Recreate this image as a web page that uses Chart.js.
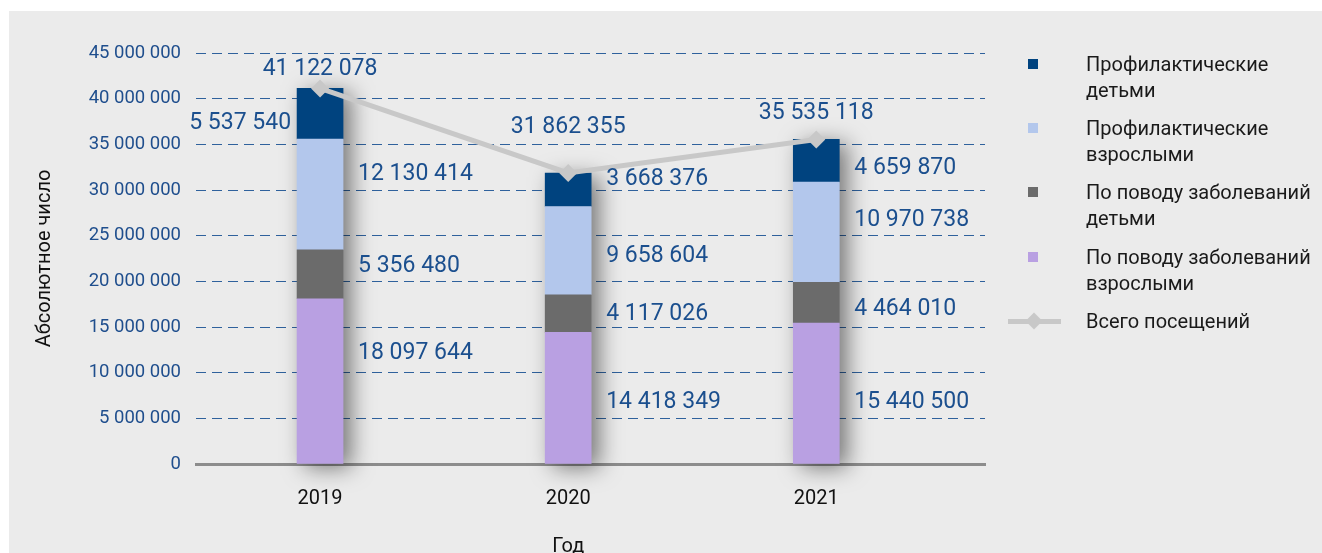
<!DOCTYPE html>
<html>
<head>
  <meta charset="utf-8">
  <title>Посещения</title>
  <script src="https://cdn.jsdelivr.net/npm/chart.js"></script>
  <style>
    body { margin: 0; background: #fff; font-family: Roboto, sans-serif; }
    #panel { position: absolute; left: 9px; top: 11px; width: 1313px; height: 542px; background: #ebebeb; overflow: hidden; }
    #visitsChart { position: absolute; left: 0; top: 0; }
    #legend { position: absolute; left: 995px; top: 40px; width: 318px; }
    .item { position: relative; height: 64.2px; }
    .marker { position: absolute; left: 24px; top: 8px; width: 10px; height: 10px; }
    .lineIcon { position: absolute; left: 4px; top: 11px; width: 53px; height: 5px; background: #c8c8c8; }
    .lineIcon::after { content: ''; position: absolute; left: 20px; top: -4px; width: 12px; height: 12px; background: #c8c8c8; transform: rotate(45deg); }
    .text { position: absolute; left: 82px; top: 0; width: 232px; font-size: 20px; line-height: 26px; color: #1a1a1a; }
  </style>
</head>
<body>
  <div id="panel">
    <canvas id="visitsChart" width="1313" height="542"></canvas>
    <div id="legend"></div>
  </div>

  <script>
    const years = ['2019', '2020', '2021'];
    const seriesNames = [
      'Профилактические детьми',
      'Профилактические взрослыми',
      'По поводу заболеваний детьми',
      'По поводу заболеваний взрослыми',
      'Всего посещений'
    ];
    const childrenPrev = [5537540, 3668376, 4659870];
    const adultsPrev = [12130414, 9658604, 10970738];
    const childrenIllness = [5356480, 4117026, 4464010];
    const adultsIllness = [18097644, 14418349, 15440500];
    const totalVisits = [41122078, 31862355, 35535118];
    const yMax = 45000000;
    const yStep = 5000000;

    const colors = ['#00437f', '#b3c7ec', '#6b6b6b', '#b9a0e2', '#c8c8c8'];
    const labelColor = '#1b4f8e';

    Chart.defaults.font.family = 'Roboto, sans-serif';

    // 12345678 -> "12 345 678"
    function fmt(n) {
      return String(n).replace(/\B(?=(\d{3})+(?!\d))/g, ' ');
    }

    function points(arr) {
      return arr.map((v, i) => ({ x: i, y: v }));
    }

    function barSet(label, arr, color) {
      return {
        label: label,
        data: points(arr),
        backgroundColor: color,
        barThickness: 46,
        order: 1
      };
    }

    // soft shadow behind each whole stack
    const barShadow = {
      id: 'barShadow',
      beforeDatasetsDraw(chart) {
        const c = chart.ctx;
        const metas = [0, 1, 2, 3].map(i => chart.getDatasetMeta(i));
        metas[0].data.forEach((el, j) => {
          const top = Math.min(...metas.map(m => m.data[j].y));
          c.save();
          c.shadowColor = 'rgba(0,0,0,0.5)';
          c.shadowBlur = 22;
          c.shadowOffsetX = 8;
          c.shadowOffsetY = 4;
          c.fillStyle = '#999';
          c.fillRect(el.x - el.width / 2, top, el.width, el.base - top);
          c.restore();
        });
      }
    };

    // value labels next to the segments and totals above the line
    const valueLabels = {
      id: 'valueLabels',
      afterDatasetsDraw(chart, args, opts) {
        const c = chart.ctx;
        c.save();
        c.font = '23px Roboto, sans-serif';
        c.fillStyle = labelColor;
        c.textBaseline = 'middle';
        for (let i = 0; i < 4; i++) {
          const meta = chart.getDatasetMeta(i);
          const values = chart.data.datasets[i].data;
          meta.data.forEach((el, j) => {
            const y = (el.y + el.base) / 2 + opts.segNudge[i][j] + 2;
            const onLeft = i === 3 && j === 0;
            c.textAlign = onLeft ? 'right' : 'left';
            const x = onLeft ? el.x - el.width / 2 - 6 : el.x + el.width / 2 + opts.gap;
            c.fillText(fmt(values[j].y), x, y);
          });
        }
        const line = chart.getDatasetMeta(4);
        c.textAlign = 'center';
        line.data.forEach((pt, j) => {
          c.fillText(fmt(totalVisits[j]), pt.x, pt.y - opts.totalLift[j]);
        });
        c.restore();
      }
    };

    // x axis title sits under the middle category
    const xTitle = {
      id: 'xTitle',
      afterDraw(chart) {
        const x = chart.scales.x;
        const c = chart.ctx;
        c.save();
        c.font = '20px Roboto, sans-serif';
        c.fillStyle = '#111';
        c.textAlign = 'center';
        c.textBaseline = 'middle';
        c.fillText('Год', x.getPixelForValue(1), x.bottom - 6);
        c.restore();
      }
    };

    new Chart(document.getElementById('visitsChart'), {
      type: 'bar',
      data: {
        datasets: [
          barSet(seriesNames[3], adultsIllness, colors[3]),
          barSet(seriesNames[2], childrenIllness, colors[2]),
          barSet(seriesNames[1], adultsPrev, colors[1]),
          barSet(seriesNames[0], childrenPrev, colors[0]),
          {
            type: 'line',
            label: seriesNames[4],
            data: points(totalVisits),
            stack: 'total',
            order: 0,
            borderColor: colors[4],
            backgroundColor: colors[4],
            borderWidth: 5,
            pointStyle: 'rectRot',
            pointRadius: 9,
            pointHoverRadius: 9,
            pointBorderWidth: 0
          }
        ]
      },
      options: {
        responsive: false,
        animation: false,
        layout: { padding: { left: 24, top: 42, right: 337, bottom: 0 } },
        plugins: {
          legend: { display: false },
          tooltip: { enabled: false },
          valueLabels: {
            gap: 15,
            segNudge: [
              [-30, 2, 7],
              [-10, -1, 5],
              [-22, 4, -14],
              [8, -12, 6]
            ],
            totalLift: [19, 46, 26]
          }
        },
        scales: {
          x: {
            type: 'linear',
            stacked: true,
            offset: false,
            min: -0.5,
            max: 2.68,
            grid: { display: false, drawTicks: false, offset: false },
            border: { color: '#8c8c8c', width: 3 },
            afterBuildTicks: s => { s.ticks = years.map((_, i) => ({ value: i })); },
            ticks: {
              callback: v => years[v],
              color: '#111',
              font: { size: 20 },
              padding: 23,
              autoSkip: false,
              maxRotation: 0
            },
            afterFit: s => { s.height = 89; }
          },
          y: {
            stacked: true,
            min: 0,
            max: yMax,
            ticks: { stepSize: yStep, callback: v => fmt(v), color: '#1f4e8d', font: { size: 18.5 }, padding: 15 },
            grid: { color: '#2f619c', drawTicks: false, lineWidth: 1 },
            border: { display: false, dash: [10, 6] },
            title: { display: true, text: 'Абсолютное число', color: '#111', font: { size: 20 }, padding: 0 },
            afterFit: s => { s.width = 163; }
          }
        }
      },
      plugins: [barShadow, valueLabels, xTitle]
    });

    // html legend
    const legend = document.getElementById('legend');
    seriesNames.forEach((name, i) => {
      const item = document.createElement('div');
      item.className = 'item';
      const icon = document.createElement('div');
      if (i === 4) {
        icon.className = 'lineIcon';
      } else {
        icon.className = 'marker';
        icon.style.background = colors[i];
      }
      const text = document.createElement('div');
      text.className = 'text';
      text.textContent = name;
      item.appendChild(icon);
      item.appendChild(text);
      legend.appendChild(item);
    });
  </script>
</body>
</html>
